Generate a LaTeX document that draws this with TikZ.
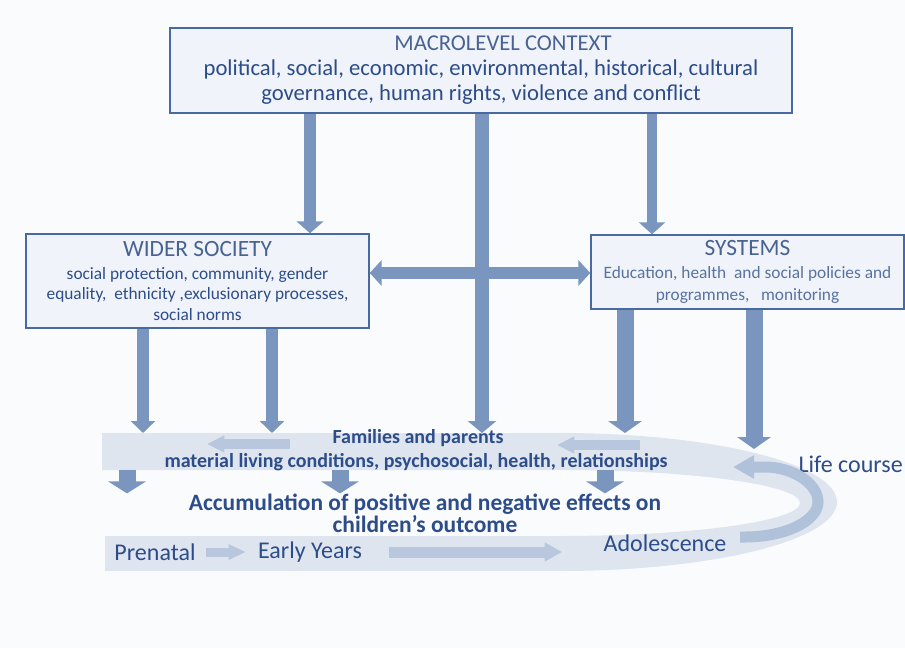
\documentclass[tikz,border=0pt]{standalone}
\usepackage{fontspec}
\setmainfont{Carlito}
\usetikzlibrary{arrows.meta}

\definecolor{pagebg}{RGB}{250,251,252}
\definecolor{boxfill}{RGB}{240,244,250}
\definecolor{boxline}{RGB}{72,106,160}
\definecolor{arrowblue}{RGB}{122,150,190}
\definecolor{paleband}{RGB}{222,229,239}
\definecolor{palearrow}{RGB}{184,199,221}
\definecolor{coursearrow}{RGB}{176,193,218}
\definecolor{inkblue}{RGB}{44,76,138}
\definecolor{titleblue}{RGB}{72,98,146}
\definecolor{sysblue}{RGB}{88,114,160}

\newcommand{\boxtitle}{\fontsize{17.5}{20}\selectfont\color{titleblue}}
\newcommand{\boxbody}{\fontsize{13}{14.5}\selectfont}

\begin{document}
\begin{tikzpicture}[x=0.75pt,y=-0.75pt,
  levelbox/.style={draw=boxline,line width=1.1pt,fill=boxfill,inner sep=0pt,
    align=center,text=inkblue,font=\boxbody},
  feed/.style 2 args={draw=arrowblue,line width=#1,-{Triangle[width=#2,length=9pt]}},
  twoway/.style={draw=arrowblue,line width=9pt,
    {Triangle[width=19pt,length=9pt]}-{Triangle[width=19pt,length=9pt]}},
  drift/.style 2 args={draw=palearrow,line width=#1,-{Triangle[width=#2,length=13pt]}},
  bandtext/.style={inner sep=0pt,text=inkblue,font=\fontsize{15}{17}\selectfont\bfseries},
  stagetext/.style={inner sep=0pt,text=inkblue,font=\fontsize{18}{20}\selectfont},
]
\fill[pagebg] (0,0) rectangle (905,648);
\useasboundingbox (0,0) rectangle (905,648);

% life course band
\fill[paleband] (102,433) -- (560,433) .. controls (713,433) and (837,464) .. (837,502)
  .. controls (837,540) and (713,571) .. (560,571) -- (105,571) -- (105,536) -- (560,536)
  .. controls (693,536) and (800,521) .. (800,503) .. controls (800,485) and (693,470) .. (560,470)
  -- (102,470) -- cycle;
\coordinate (bandtop) at (0,433);
\coordinate (bandfoot) at (0,470);
\coordinate (coursetop) at (754,449);

% the three levels
\node[levelbox,minimum width=466.5pt,minimum height=63.75pt,
  font=\fontsize{17}{18.75}\selectfont] (macro) at (481,70.5)
  {{\color{titleblue}\hspace*{33pt}MACROLEVEL CONTEXT}\\
   political, social, economic, environmental, historical, cultural\\
   governance, human rights, violence and conflict};
\node[levelbox,minimum width=257.25pt,minimum height=70.5pt] (wider) at (197.5,281)
  {{\boxtitle WIDER SOCIETY}\\[3pt]
   social protection, community, gender\\[0.5pt]
   equality,~ ethnicity ,exclusionary processes,\\[1.5pt]
   social norms};
\node[levelbox,minimum width=234.75pt,minimum height=55.5pt,text=sysblue] (systems) at (747.5,272)
  {{\boxtitle SYSTEMS}\\[3pt]
   Education, health~ and social policies and\\[2pt]
   programmes,~~ monitoring};

% texts on the band
\node[bandtext] (families) at (418,438) {Families and parents};
\node[bandtext] (living) at (416,462) {material living conditions, psychosocial, health, relationships};
\node[bandtext,font=\fontsize{17.6}{16.5}\selectfont\bfseries,align=center] (accum) at (425,513)
  {Accumulation of positive and negative effects on\\children's outcome};
\node[stagetext] (prenatal) at (155,552) {Prenatal};
\node[stagetext] (early) at (310,552) {Early Years};
\node[stagetext] (adol) at (665,543) {Adolescence};
\node[stagetext,anchor=east] (life) at (903,464) {Life course};

% influences
\draw[feed={9pt}{20pt}] (macro.south -| 310,0) -- (wider.north -| 310,0);
\draw[feed={7.5pt}{19.5pt}] (macro.south -| 652,0) -- (systems.north -| 652,0);
\draw[twoway] (wider.east |- 0,273) -- (systems.west |- 0,273);
\draw[feed={11pt}{21pt}] (macro.south -| 482,0) -- (bandtop -| 482,0);
\foreach \x in {143,272}
  \draw[feed={8.5pt}{18pt}] (wider.south -| \x,0) -- (bandtop -| \x,0);
\draw[feed={12.75pt}{25pt}] (systems.south -| 625,0) -- (bandtop -| 625,0);
\draw[feed={12.75pt}{25pt}] (systems.south -| 754,0) -- (coursetop);
\foreach \x in {127,340,605}
  \draw[feed={12.75pt}{28pt}] (bandfoot -| \x,0) -- (accum.north -| \x,0);

% pale arrows
\draw[drift={7.5pt}{12pt}] (290,444) -- (207,444);
\draw[drift={7.5pt}{12pt}] (640,445) -- (557,445);
\draw[drift={6.75pt}{11pt},shorten <=8pt,shorten >=9pt] (prenatal) -- (early);
\draw[drift={8.25pt}{13.5pt},shorten <=20pt,shorten >=31pt] (early.east) -- (early.east -| adol.west);
\draw[draw=coursearrow,line width=8.25pt,-{Triangle[width=16.5pt,length=15.75pt]}]
  (740,537) -- (745,537) .. controls (785,537) and (818,521) .. (818,502)
  .. controls (818,483) and (792,467) .. (765,467) -- (733,467);
\end{tikzpicture}
\end{document}
